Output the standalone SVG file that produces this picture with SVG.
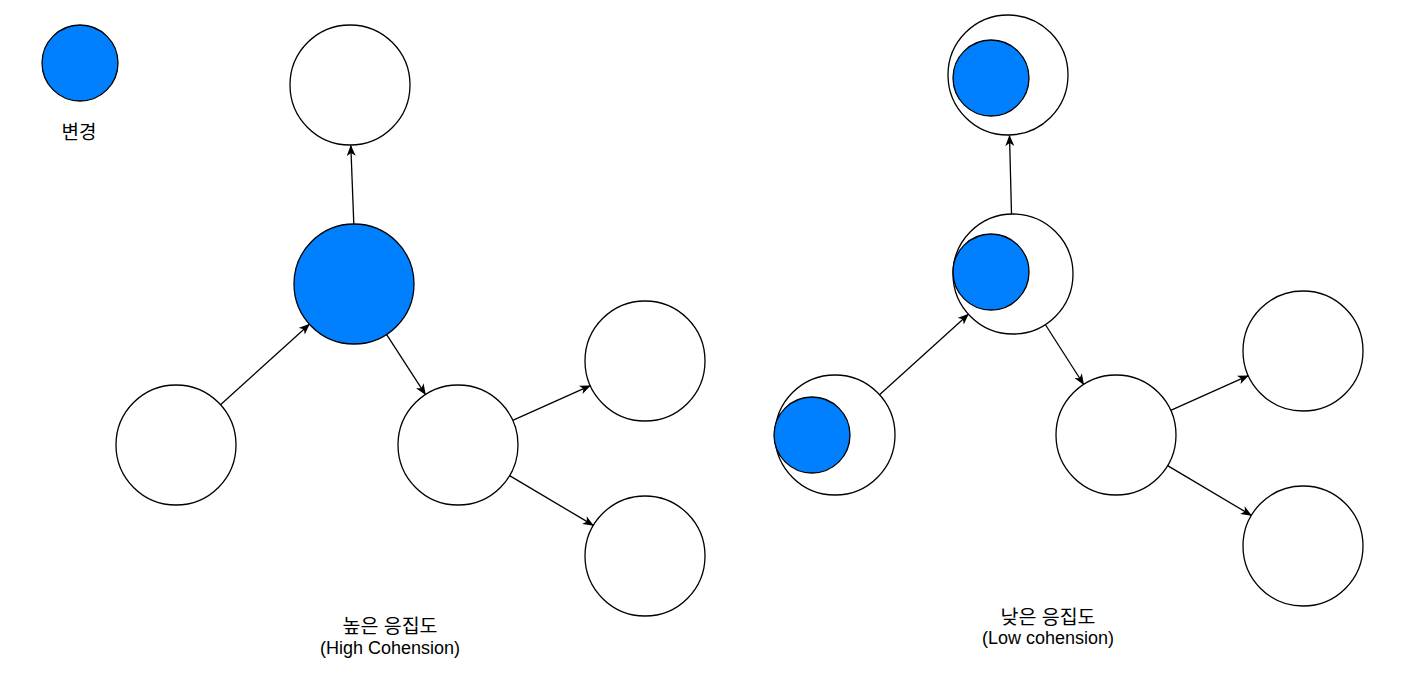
<svg xmlns="http://www.w3.org/2000/svg" width="1414" height="684" viewBox="0 0 1414 684">
<style>
.n{fill:#ffffff;stroke:#000000;stroke-width:1.3}
.b{fill:#007fff;stroke:#000000;stroke-width:1.3}
.e{stroke:#000000;stroke-width:1.3;fill:none;marker-end:url(#ah)}
.t{font-family:"Liberation Sans","Noto Sans CJK KR",sans-serif;font-size:18px;fill:#000000;text-anchor:middle}
.k{font-size:19.5px}
</style>
<defs>
<marker id="ah" markerUnits="userSpaceOnUse" viewBox="0 0 11 9" refX="10.5" refY="4.5" markerWidth="11" markerHeight="9" orient="auto">
<path d="M0,0 L11,4.5 L0,9 L3,4.5 Z" fill="#000000"/>
</marker>
</defs>
<rect width="1414" height="684" fill="#ffffff"/>
<g id="legend">
<circle class="b" cx="80" cy="63" r="38"/>
<text class="t" x="79" y="139" style="font-size:19px">변경</text>
</g>
<g id="connectors">
<line class="e" x1="353.8" y1="224" x2="350.8" y2="145.5"/>
<line class="e" x1="220.5" y1="404.7" x2="309.5" y2="324.2"/>
<line class="e" x1="386.5" y1="334.4" x2="425.5" y2="394.6"/>
<line class="e" x1="512.7" y1="420.4" x2="590.3" y2="385.6"/>
<line class="e" x1="509.6" y1="475.6" x2="593.4" y2="525.4"/>
<line class="e" x1="1011.5" y1="214" x2="1009.5" y2="135.5"/>
<line class="e" x1="879.5" y1="394.7" x2="968.5" y2="314.2"/>
<line class="e" x1="1045.3" y1="324.5" x2="1083.7" y2="384.5"/>
<line class="e" x1="1170.7" y1="410.4" x2="1248.3" y2="375.6"/>
<line class="e" x1="1167.6" y1="465.6" x2="1251.4" y2="515.4"/>
</g>
<g id="high-top"><circle class="n" cx="350" cy="85" r="60"/></g>
<g id="high-center"><circle class="b" cx="354" cy="284" r="60"/></g>
<g id="high-left"><circle class="n" cx="176" cy="445" r="60"/></g>
<g id="high-mid"><circle class="n" cx="458" cy="445" r="60"/></g>
<g id="high-rt"><circle class="n" cx="645" cy="361" r="60"/></g>
<g id="high-rb"><circle class="n" cx="645" cy="556" r="60"/></g>
<g id="low-top"><circle class="n" cx="1008" cy="75" r="60"/><circle class="b" cx="991" cy="78" r="38"/></g>
<g id="low-center"><circle class="n" cx="1013" cy="274" r="60"/><circle class="b" cx="991" cy="272" r="38"/></g>
<g id="low-left"><circle class="n" cx="835" cy="435" r="60"/><circle class="b" cx="812" cy="435" r="38"/></g>
<g id="low-mid"><circle class="n" cx="1116" cy="435" r="60"/></g>
<g id="low-rt"><circle class="n" cx="1303" cy="351" r="60"/></g>
<g id="low-rb"><circle class="n" cx="1303" cy="546" r="60"/></g>
<g id="label-high">
<text class="t k" x="390" y="633">높은 응집도</text>
<text class="t" x="390" y="654">(High Cohension)</text>
</g>
<g id="label-low">
<text class="t k" x="1048" y="624">낮은 응집도</text>
<text class="t" x="1048" y="644">(Low cohension)</text>
</g>
</svg>
